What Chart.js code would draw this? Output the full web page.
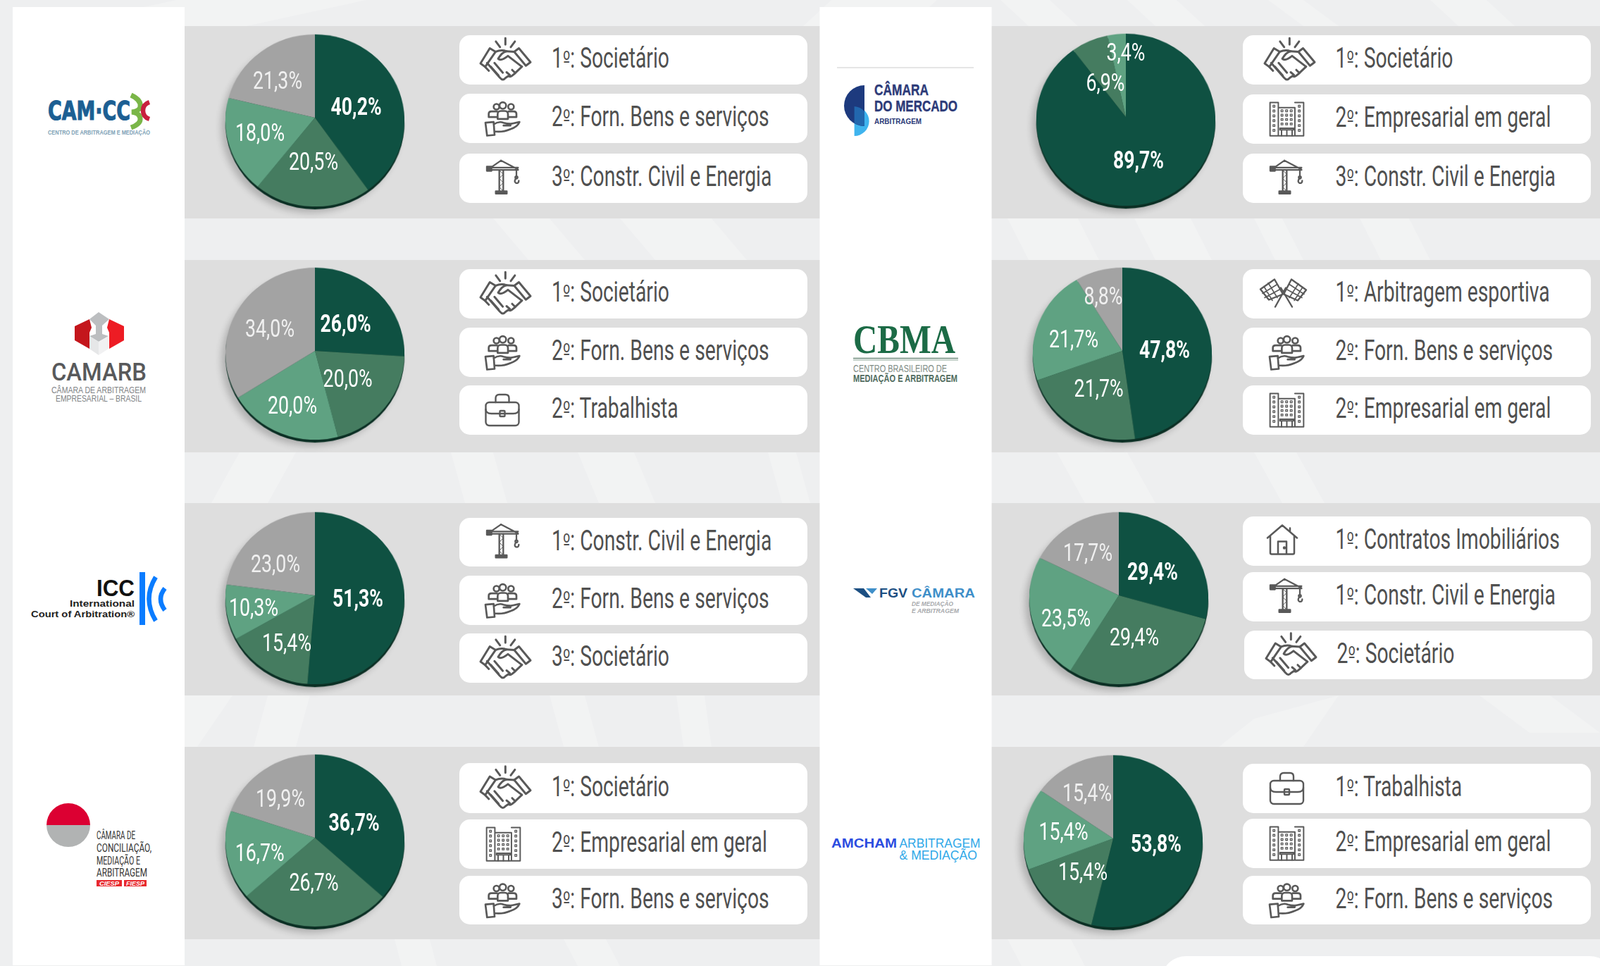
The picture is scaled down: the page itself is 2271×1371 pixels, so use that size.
<!DOCTYPE html>
<html lang="pt"><head><meta charset="utf-8">
<style>
html,body{margin:0;padding:0;background:#eeeff0;width:2271px;height:1371px;overflow:hidden}
#stage{position:relative;width:2271px;height:1371px;overflow:hidden}
svg.layer{position:absolute;left:0;top:0;width:2271px;height:1371px}
.rim,.pie{position:absolute;width:254px;height:254px;border-radius:50%}
.rim{background:#0b2f24;box-shadow:-6px 5px 10px rgba(0,0,0,.2)}
canvas{display:block}
</style>
<script src="https://cdn.jsdelivr.net/npm/chart.js@4"></script>
</head><body><div id="stage"></div>
<script>
/* ---------- data ---------- */
const sliceNames=['1º','2º','3º','Outros'];
const camCcbcValues=[40.2,20.5,18.0,21.3];
const camarbValues=[26.0,20.0,20.0,34.0];
const iccValues=[51.3,15.4,10.3,23.0];
const ciespValues=[36.7,26.7,16.7,19.9];
const mercadoValues=[89.7,6.9,3.4];
const cbmaValues=[47.8,21.7,21.7,8.8];
const fgvValues=[29.4,29.4,23.5,17.7];
const amchamValues=[53.8,15.4,15.4,15.4];
const camCcbcTopics=['1º: Societário','2º: Forn. Bens e serviços','3º: Constr. Civil e Energia'];
const camarbTopics=['1º: Societário','2º: Forn. Bens e serviços','2º: Trabalhista'];
const iccTopics=['1º: Constr. Civil e Energia','2º: Forn. Bens e serviços','3º: Societário'];
const ciespTopics=['1º: Societário','2º: Empresarial em geral','3º: Forn. Bens e serviços'];
const mercadoTopics=['1º: Societário','2º: Empresarial em geral','3º: Constr. Civil e Energia'];
const cbmaTopics=['1º: Arbitragem esportiva','2º: Forn. Bens e serviços','2º: Empresarial em geral'];
const fgvTopics=['1º: Contratos Imobiliários','1º: Constr. Civil e Energia','2º: Societário'];
const amchamTopics=['1º: Trabalhista','2º: Empresarial em geral','2º: Forn. Bens e serviços'];
const sliceColors=['#0f5142','#457c60','#5fa282','#a3a3a3'];

/* ---------- layout ---------- */
const panels=[
 {v:camCcbcValues,t:camCcbcTopics,ic:['hands','people','crane'],cx:447,cy:167,
  pills:[[50,120],[133,203],[218,288]],lab:[[505.6,151],[445,229],[369,188],[394,114]]},
 {v:camarbValues,t:camarbTopics,ic:['hands','people','case'],cx:447,cy:498,
  pills:[[382,452],[465,535],[547,617]],lab:[[490.6,459],[493.6,537],[415,575],[383,466]]},
 {v:iccValues,t:iccTopics,ic:['crane','people','hands'],cx:447,cy:845,
  pills:[[735,804],[817,887],[899,969]],lab:[[508,849],[407,912],[360,861.6],[391,800]]},
 {v:ciespValues,t:ciespTopics,ic:['hands','build','people'],cx:447,cy:1189,
  pills:[[1083,1154],[1163,1233],[1243,1312]],lab:[[502.6,1167],[445.5,1252],[368.7,1210],[398,1133]]},
 {v:mercadoValues,t:mercadoTopics,ic:['hands','build','crane'],cx:1597.5,cy:166,right:1,
  pills:[[50,120],[134,204],[218,288]],lab:[[1616,227],[1569,117],[1598,74]]},
 {v:cbmaValues,t:cbmaTopics,ic:['flags','people','build'],cx:1592.5,cy:498,right:1,
  pills:[[382,452],[465,535],[547,617]],lab:[[1653,496],[1559.6,551],[1524,480.5],[1566,420]]},
 {v:fgvValues,t:fgvTopics,ic:['house','crane','hands'],cx:1588,cy:845,right:1,
  pills:[[733,803],[812,882],[895,964]],lab:[[1636,811],[1610,904],[1513,876.6],[1544,784]]},
 {v:amchamValues,t:amchamTopics,ic:['case','build','people'],cx:1579.6,cy:1190,right:1,
  pills:[[1084,1154],[1162,1232],[1243,1312]],lab:[[1641,1197],[1537,1237],[1509.5,1180],[1543,1125]]}
];
const bands=[[37,310],[369,642],[714,987],[1060,1333]];
const FONT='Roboto,sans-serif';
const meas=document.createElement('canvas').getContext('2d');
function natural(txt,size,weight){meas.font=(weight||'normal')+' '+size+'px '+FONT;return meas.measureText(txt).width;}
const topicSize=40, topicScale=315/natural('3º: Constr. Civil e Energia',topicSize);
const labelSize=35, labelScale=70/natural('20,0%',labelSize), labelScaleBold=72/natural('26,0%',labelSize,'bold');

/* ---------- icons ---------- */
const ICON={
 hands:{w:215,h:186,sw:9,dy:0,ox:[30,31],s:`
  <path d="M107 0V27M66 14L84 38M148 14L130 38"/>
  <path d="M40 43L0 108L20 123L65 58ZM165 43L215 103L195 118L145 58Z" />
  <path d="M65 58Q90 48 112 56L145 58"/>
  <path d="M112 56Q92 60 76 88Q88 100 118 76L178 122"/>
  <path d="M20 123L36 140M28 106L84 170Q96 186 108 170L120 162M44 122L78 160M60 106L96 148M120 162Q128 170 142 156L178 122M112 146L126 158M136 136L150 150"/>`},
 people:{w:150,h:145,sw:8,dy:1,ox:[36,37],s:`
  <circle cx="50" cy="20" r="12"/><circle cx="77" cy="15" r="14"/><circle cx="112" cy="20" r="12"/>
  <path d="M55 72V52Q55 38 69 38H85Q99 38 99 52V72ZM55 64H17V50Q17 40 29 40H52M99 64H135V50Q135 40 123 40H102"/>
  <path d="M3 88L38 85L42 140L10 143ZM38 95Q60 80 80 88Q100 94 115 92L148 85Q140 105 110 115Q75 130 42 125M80 100H110M115 92Q105 96 100 100"/>`},
 crane:{w:138,h:143,sw:7,dy:-2,ox:[39,39],s:`
  <path d="M53 43V133M70 43V133"/><path d="M53 43L70 60L53 78L70 96L53 114L70 133" stroke-width="3"/>
  <rect x="38" y="133" width="47" height="10" fill="#595959"/>
  <rect x="0" y="28" width="20" height="18" fill="#595959"/>
  <path d="M20 32H133M20 42H133M60 2L20 30M60 2L133 40"/>
  <path d="M126 42V72" stroke-dasharray="5 3"/><path d="M124 78Q114 92 124 98Q136 100 136 88"/><circle cx="126" cy="74" r="5"/>`},
 build:{w:150,h:150,sw:6,dy:0,ox:[38,38],s:'__BUILD__'},
 "case":{w:49,h:46,sw:2.4,dy:0,ox:[36.5,38],s:`
  <rect x="1" y="12" width="47" height="33" rx="5"/>
  <path d="M15 12V6Q15 1 20 1H29Q34 1 34 6V12M1 22Q1 28 9 28H40Q48 28 48 22"/>
  <rect x="21" y="24" width="7" height="8" rx="1"/>`},
 flags:{w:65,h:41,sw:2.4,dy:-1,ox:[25,25],s:`
  <path d="M21 40L36 13M45 40L29 13"/>
  <path d="M0 15L20 1L32 22L12 30ZM65 16L44 1L33 22L53 31Z"/>
  <path d="M5 11L17 31M11 6L24 27M3 21L24 8M6 27L28 15M60 12L48 31M54 7L41 27M62 22L41 8M59 27L37 15" stroke-width="1.6"/>`},
 house:{w:43,h:43,sw:2.5,dy:-2,ox:[35,35],s:`
  <path d="M0 19L21 1L42 19M4 16V40Q4 42 6 42H36Q38 42 38 40V16M15 42V24H27V42M32 10V5"/>
  <circle cx="24" cy="33" r="1" fill="#595959"/>`}
};
let bw='<path d="M2 148V3H38V24M38 148V25H110V148M110 3H148V148H2"/><path d="M45 115H105V122H45ZM52 122V148M75 122V148M98 122V148"/>';
for(let r=0;r<6;r++){bw+=`<rect x="15" y="${15+r*21}" width="8" height="8" stroke-width="4"/><rect x="125" y="${15+r*21}" width="8" height="8" stroke-width="4"/>`;}
for(let r=0;r<4;r++)for(let c=0;c<3;c++){bw+=`<rect x="${50+c*20}" y="${35+r*19}" width="8" height="8" stroke-width="4"/>`;}
ICON.build.s=bw;

/* ---------- background svg ---------- */
let bg='';
const stripes=[[250,0,520,0,350,37],[1180,0,1330,0,1290,37],[1420,0,1490,0,1530,37],[1600,0,1670,0,1710,37],[1800,0,1850,0,1900,37],[2030,0,2110,0,2150,37],
[700,310,780,310,830,369],[880,310,1010,310,1060,369],[1430,310,1530,310,1560,369],[1610,310,1690,310,1720,369],[1780,310,1820,310,1850,369],[1930,310,2000,310,2030,369],
[340,642,420,642,380,714],[640,642,700,642,720,714],[820,642,900,642,930,714],[1090,642,1130,642,1150,714],[1500,642,1600,642,1640,714],[1780,642,1840,642,1880,714],
[262,987,330,987,280,1060],[380,987,440,987,420,1060],[780,987,830,987,850,1060],[960,987,1000,987,1010,1060],[2100,987,2200,987,2271,1040],[1780,1020,1900,987,1850,1060],
[560,1333,610,1333,620,1371],[800,1333,860,1333,880,1371],[1430,1333,1520,1333,1540,1371]];
stripes.forEach(s=>{bg+=`<polygon fill="#fff" fill-opacity=".24" points="${s[0]},${s[1]} ${s[2]},${s[3]} ${s[4]},${s[5]} ${s[4]-(s[2]-s[0])},${s[5]}"/>`;});
bg+=`<rect x="1650" y="1357" width="640" height="60" rx="34" fill="#fff"/>`;
bands.forEach(b=>{bg+=`<rect x="262" y="${b[0]}" width="2009" height="${b[1]-b[0]}" fill="#dedede"/>`;});
bg+=`<rect x="18" y="10" width="244" height="1360" fill="#fff"/><rect x="1163.5" y="10" width="244" height="1360" fill="#fff"/>`;

function topicMarkup(t){
 const i=t.indexOf('º');
 return t.slice(0,i)+`<tspan font-family="DejaVu Sans" font-size="${topicSize*.78}" dy="-1">º</tspan><tspan dy="1">${t.slice(i+1)}</tspan>`;
}
panels.forEach(p=>{
 const L=p.right?1764:652, R=p.right?2258:1146;
 p.pills.forEach((y,i)=>{
  const shift=(p.right&&p.pills[0][0]===733&&i===2)?2:0;
  bg+=`<rect x="${L+shift}" y="${y[0]}" width="${R-L}" height="${y[1]-y[0]}" rx="15" fill="#fff"/>`;
  const ic=ICON[p.ic[i]], ox=ic.ox[p.right?1:0], pw={hands:71,people:50,crane:46,build:49,"case":49,flags:65,house:43}[p.ic[i]], k=pw/ic.w, cy=(y[0]+y[1])/2+ic.dy;
  bg+=`<g transform="translate(${L+ox+shift},${cy-ic.h*k/2}) scale(${k})" fill="none" stroke="#595959" stroke-width="${ic.sw}" stroke-linejoin="round" stroke-linecap="round">${ic.s}</g>`;
  const tx=(p.right?1895.5:783)+shift;
  bg+=`<text transform="translate(${tx},${cy-(ic.dy)+11}) scale(${topicScale},1)" font-family='${FONT}' font-size="${topicSize}" fill="#505050">${topicMarkup(p.t[i])}</text>`;
 });
});

/* ---------- logos ---------- */
function T(t,x,y,w,size,fill,extra){return `<text x="${x}" y="${y}" textLength="${w}" lengthAdjust="spacingAndGlyphs" font-size="${size}" fill="${fill}" ${extra||''}>${t}</text>`;}
const sans='font-family="Liberation Sans" ', narrow='font-family="Roboto" ', bold='font-weight="bold" ';
let logos='';
/* CAM-CCBC */
logos+=T('CAM·CC',68,170,117,38,'#1c5f93','font-family="DejaVu Sans" font-weight="bold" stroke="#1c5f93" stroke-width="1.2"');
logos+=`<path d="M186 135Q201 142 199 152Q197 158 187 159Q198 160 199 168Q200 176 186 181" fill="none" stroke="#7ab648" stroke-width="7"/>`;
logos+=`<path d="M212 145Q203 148 203 157Q203 166 212 169" fill="none" stroke="#c8203e" stroke-width="6.5"/>`;
logos+=T('CENTRO DE ARBITRAGEM E MEDIAÇÃO',68,191,145,9.5,'#7d9fb5',sans+bold);
/* CAMARB */
logos+=`<polygon points="106,463 127,453 130,465 127,472 127,495 106,483" fill="#c4161c"/>
<polygon points="176,463 155,453 152,465 155,472 155,495 176,483" fill="#ed1c24"/>
<polygon points="140,443 127,453 136,462 136,474 127,477 140,485 154,477 145,474 145,462 155,453" fill="#bcbec0"/>
<polygon points="127,477 140,485 140,504 127,495" fill="#e6e7e8"/><polygon points="154,477 140,485 140,504 154,495" fill="#f1f1f2"/>`;
logos+=T('CAMARB',73,540,135,35,'#58595b',narrow+'font-weight="500"');
logos+=T('CÂMARA DE ARBITRAGEM',73,558,134,13,'#808285',sans);
logos+=T('EMPRESARIAL – BRASIL',79,570,122,13,'#808285',sans);
/* Camara do Mercado */
logos+=`<line x1="1188" y1="96" x2="1382" y2="96" stroke="#dcdcdc" stroke-width="1.5"/>`;
logos+=`<path d="M1212.6 151A21 21 0 0 1 1212.6 193Z" fill="#3fb4ee"/>`;
logos+=`<path d="M1227 121A29 29 0 0 0 1227 179Z" fill="#1d3a7e"/>`;
logos+=`<path d="M1212.6 151A21 21 0 0 1 1227 158V179Q1219 178 1212.6 175Z" fill="#2267ae"/>`;
const merc=sans+bold+'stroke="#2c3a78" stroke-width=".4"';
logos+=T('CÂMARA',1241,135,77,21.5,'#2c3a78',merc);
logos+=T('DO MERCADO',1241,158,118,21.5,'#2c3a78',merc);
logos+=T('ARBITRAGEM',1241,176,67,10.5,'#2c3a78',sans+bold);
/* CBMA */
logos+=T('CBMA',1211,501,145,58,'#1c6b46','font-family="Liberation Serif" font-weight="bold"');
logos+=`<line x1="1211" y1="508.5" x2="1360" y2="508.5" stroke="#6f8c7c" stroke-width="1.5"/><line x1="1211" y1="511" x2="1360" y2="511" stroke="#8fa89a" stroke-width="1"/>`;
logos+=T('CENTRO BRASILEIRO DE',1211,528,133,14,'#7d8a83',sans);
logos+=T('MEDIAÇÃO E ARBITRAGEM',1211,541.5,148,14,'#4f6b5d',sans+bold);
/* ICC */
logos+=T('ICC',137,846,54,33,'#111',sans+bold);
logos+=T('International',99,861,92,13.5,'#222',sans+bold);
logos+=T('Court of Arbitration®',44,875.5,147,13.5,'#222',sans+bold);
logos+=`<rect x="198" y="812" width="8" height="75" fill="#0a7cff"/>`;
logos+=`<path d="M221 819Q202 850 221 881" fill="none" stroke="#0a7cff" stroke-width="6.5"/><path d="M234 835Q222 850 234 866" fill="none" stroke="#0a7cff" stroke-width="6.5"/>`;
/* CIESP */
logos+=`<path d="M66 1171A31 31 0 0 1 128 1171Z" fill="#dc0032"/><path d="M66 1171A31 31 0 0 0 128 1171Z" fill="#b1b3b3"/>`;
logos+=T('CÂMARA DE',137,1191,55,16,'#333',narrow);
logos+=T('CONCILIAÇÃO,',137,1209,78,16,'#333',narrow);
logos+=T('MEDIAÇÃO E',137,1227,62,16,'#333',narrow);
logos+=T('ARBITRAGEM',137,1244,72,16,'#333',narrow);
logos+=`<rect x="137" y="1249" width="36" height="9" fill="#e8292e"/><rect x="176" y="1249" width="32" height="9" fill="#e8292e"/>`;
logos+=T('CIESP',141,1257,28,9,'#fff',sans+bold+'font-style="italic"');
logos+=T('FIESP',179,1257,26,9,'#fff',sans+bold+'font-style="italic"');
/* FGV */
logos+=`<polygon points="1211,835 1226,835 1236,848 1229,848" fill="#1c4f82"/><polygon points="1229,835 1245,835 1238,843" fill="#3f8fc9"/>`;
logos+=T('FGV',1248,848,40,18,'#1c4f82',sans+bold);
logos+=T('CÂMARA',1294,848,90,18,'#3f8fc9',sans+bold);
logos+=T('DE MEDIAÇÃO',1294,860,59,8.5,'#a7a9ac',sans+bold+'font-style="italic"');
logos+=T('E ARBITRAGEM',1294,870,67,8.5,'#a7a9ac',sans+bold+'font-style="italic"');
/* AMCHAM */
logos+=T('AMCHAM',1180,1203,93,18.5,'#2c4de0',sans+bold);
logos+=T('ARBITRAGEM',1276.5,1203,115,18.5,'#2fa8e8',sans);
logos+=T('&amp; MEDIAÇÃO',1276.5,1220,110.5,18.5,'#2fa8e8',sans);

const stage=document.getElementById('stage');
const NS='http://www.w3.org/2000/svg';
function addSvg(html){const s=document.createElementNS(NS,'svg');s.setAttribute('class','layer');s.setAttribute('viewBox','0 0 2271 1371');s.innerHTML=html;stage.appendChild(s);return s;}
addSvg(bg+logos);

/* ---------- pies ---------- */
const tilt='perspective(1068px) rotateX(16deg)';
panels.forEach(p=>{
 const rim=document.createElement('div');rim.className='rim';
 rim.style.left=(p.cx-127)+'px';rim.style.top=(p.cy-127)+'px';rim.style.transform='translateY(4px) '+tilt;
 stage.appendChild(rim);
 const wrap=document.createElement('div');wrap.className='pie';
 wrap.style.left=(p.cx-127)+'px';wrap.style.top=(p.cy-127)+'px';wrap.style.transform=tilt;
 const cv=document.createElement('canvas');cv.width=254;cv.height=254;wrap.appendChild(cv);stage.appendChild(wrap);
 new Chart(cv,{type:'pie',data:{labels:sliceNames.slice(0,p.v.length),datasets:[{data:p.v,backgroundColor:sliceColors.slice(0,p.v.length),borderWidth:0}]},
  options:{responsive:false,animation:false,layout:{padding:0},events:[],plugins:{legend:{display:false},tooltip:{enabled:false},title:{display:false}}}});
});

/* ---------- value labels ---------- */
let lab='';
panels.forEach(p=>{
 p.v.forEach((v,i)=>{
  const txt=v.toFixed(1).replace('.',',')+'%', c=p.lab[i], b=i===0;
  lab+=`<text transform="translate(${c[0]},${c[1]+12}) scale(${b?labelScaleBold:labelScale},1)" text-anchor="middle" font-family='${FONT}' font-size="${labelSize}" font-weight="${b?'bold':'normal'}" fill="${i===3?'#f0f0f0':'#fff'}">${txt}</text>`;
 });
});
addSvg(lab);
</script></body></html>
